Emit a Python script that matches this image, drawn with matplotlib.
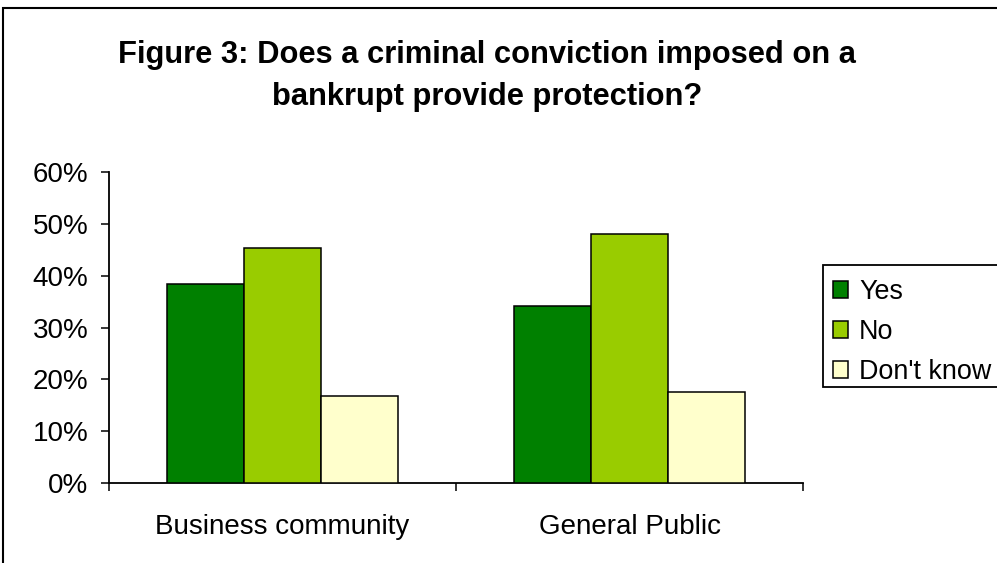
import matplotlib
matplotlib.use("Agg")
import matplotlib.pyplot as plt
from matplotlib.patches import Rectangle
import numpy as np

plt.rcParams['font.family'] = ['Liberation Sans', 'DejaVu Sans']

categories = ["Business community", "General Public"]
series_names = ["Yes", "No", "Don't know"]
yes_vals = [0.384, 0.342]
no_vals = [0.453, 0.480]
dk_vals = [0.168, 0.176]
colors = ["#008000", "#99CC00", "#FFFFCC"]
yticks = [0, 0.1, 0.2, 0.3, 0.4, 0.5, 0.6]
ytick_labels = ["0%", "10%", "20%", "30%", "40%", "50%", "60%"]
title = "Figure 3: Does a criminal conviction imposed on a\nbankrupt provide protection?"

W, H = 997, 563
fig = plt.figure(figsize=(W / 100, H / 100), dpi=100)
ax = fig.add_axes([109 / W, 1 - 483.3 / H, 694 / W, 311.6 / H])

x = np.arange(len(categories))
bw = 0.2228
for i, (name, vals, c) in enumerate(zip(series_names, [yes_vals, no_vals, dk_vals], colors)):
    ax.bar(x + (i - 1) * bw, vals, width=bw, color=c, edgecolor="black",
           linewidth=1.1, label=name, zorder=3)

ax.set_xlim(-0.5, 1.5)
ax.set_ylim(0, 0.6)
ax.set_yticks(yticks)
ax.set_yticklabels(ytick_labels, fontsize=20)
ax.set_xticks([-0.5, 0.5, 1.5])
ax.set_xticklabels(["", "", ""])
ax.set_xticks(x, minor=True)
ax.set_xticklabels(categories, minor=True, fontsize=20)
ax.tick_params(axis="x", which="major", direction="out", length=6, width=1.1)
ax.tick_params(axis="x", which="minor", length=0, pad=22)
ax.tick_params(axis="y", direction="out", length=6, width=1.1, pad=9)
for s in ["top", "right"]:
    ax.spines[s].set_visible(False)
for s in ["left", "bottom"]:
    ax.spines[s].set_linewidth(1.3)

fig.text(487 / W, 1 - 76 / H, title, ha="center", va="center",
         fontsize=22.2, fontweight="bold", linespacing=1.5)

# legend frame (extends past right edge like the reference)
fig.patches.append(Rectangle((823 / W, 1 - 387 / H), 1.0, (387 - 265) / H,
                             transform=fig.transFigure, fill=True, facecolor="white",
                             edgecolor="black", linewidth=1.3, zorder=1))
leg = fig.legend(loc="upper left", bbox_to_anchor=(833 / W, 1 - 279 / H),
                 fontsize=19.4, frameon=False,
                 handlelength=0.57, handleheight=0.57, handletextpad=0.4,
                 borderpad=0.0, labelspacing=0.52, borderaxespad=0)
leg.set_zorder(5)

fig.patches.append(Rectangle((3 / W, -0.5), 2, (1 - 8 / H) + 0.5,
                             transform=fig.transFigure, fill=False,
                             edgecolor="black", linewidth=1.5))

fig.savefig("out.png", dpi=100)
